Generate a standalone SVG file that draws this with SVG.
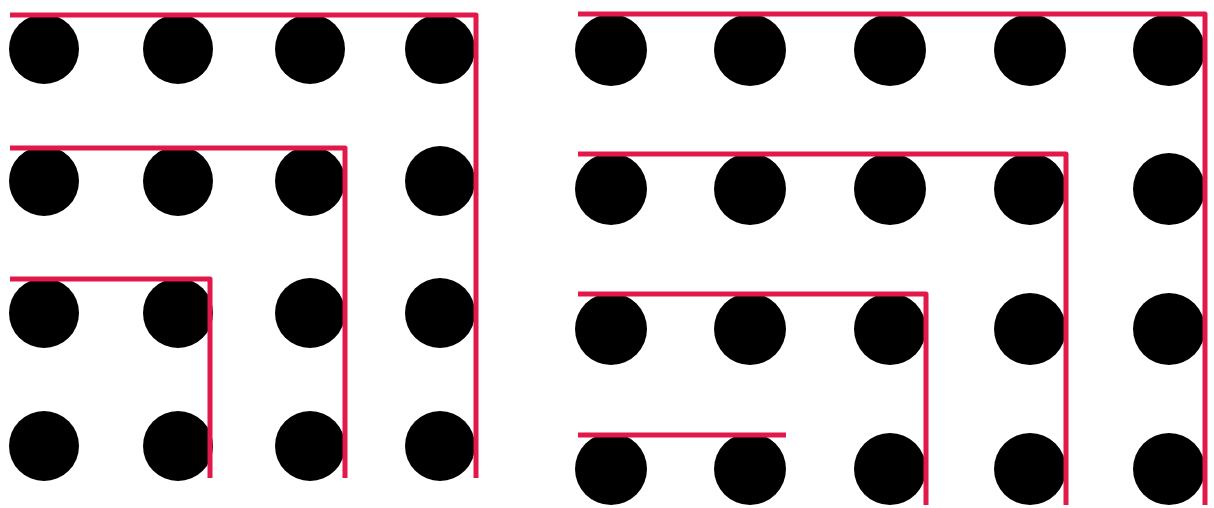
<svg xmlns="http://www.w3.org/2000/svg" width="1214" height="508" viewBox="0 0 1214 508">
<style>
.dot{fill:#000}
.ln{fill:none;stroke:#e3184a;stroke-width:5;stroke-linejoin:round}
</style>
<rect width="1214" height="508" fill="#fff"/>
<g id="left-dots">
<circle class="dot" cx="44" cy="49" r="35"/><circle class="dot" cx="178" cy="49" r="35"/><circle class="dot" cx="310" cy="49" r="35"/><circle class="dot" cx="440" cy="49" r="35"/>
<circle class="dot" cx="44" cy="181" r="35"/><circle class="dot" cx="178" cy="181" r="35"/><circle class="dot" cx="310" cy="181" r="35"/><circle class="dot" cx="440" cy="181" r="35"/>
<circle class="dot" cx="44" cy="313" r="35"/><circle class="dot" cx="178" cy="313" r="35"/><circle class="dot" cx="310" cy="313" r="35"/><circle class="dot" cx="440" cy="313" r="35"/>
<circle class="dot" cx="44" cy="446" r="35"/><circle class="dot" cx="178" cy="446" r="35"/><circle class="dot" cx="310" cy="446" r="35"/><circle class="dot" cx="440" cy="446" r="35"/>
</g>
<g id="right-dots">
<circle class="dot" cx="611" cy="50" r="36"/><circle class="dot" cx="750" cy="50" r="36"/><circle class="dot" cx="890" cy="50" r="36"/><circle class="dot" cx="1030" cy="50" r="36"/><circle class="dot" cx="1169" cy="50" r="36"/>
<circle class="dot" cx="611" cy="189" r="36"/><circle class="dot" cx="750" cy="189" r="36"/><circle class="dot" cx="890" cy="189" r="36"/><circle class="dot" cx="1030" cy="189" r="36"/><circle class="dot" cx="1169" cy="189" r="36"/>
<circle class="dot" cx="611" cy="329" r="36"/><circle class="dot" cx="750" cy="329" r="36"/><circle class="dot" cx="890" cy="329" r="36"/><circle class="dot" cx="1030" cy="329" r="36"/><circle class="dot" cx="1169" cy="329" r="36"/>
<circle class="dot" cx="611" cy="469" r="36"/><circle class="dot" cx="750" cy="469" r="36"/><circle class="dot" cx="890" cy="469" r="36"/><circle class="dot" cx="1030" cy="469" r="36"/><circle class="dot" cx="1169" cy="469" r="36"/>
</g>
<g id="connectors">
<path class="ln" d="M10 15H476V478"/>
<path class="ln" d="M10 148H345V478"/>
<path class="ln" d="M10 279H210V478"/>
<path class="ln" d="M578 14H1205V505"/>
<path class="ln" d="M578 154H1066V505"/>
<path class="ln" d="M578 294H926V505"/>
<path class="ln" d="M578 435H786"/>
</g>
</svg>
